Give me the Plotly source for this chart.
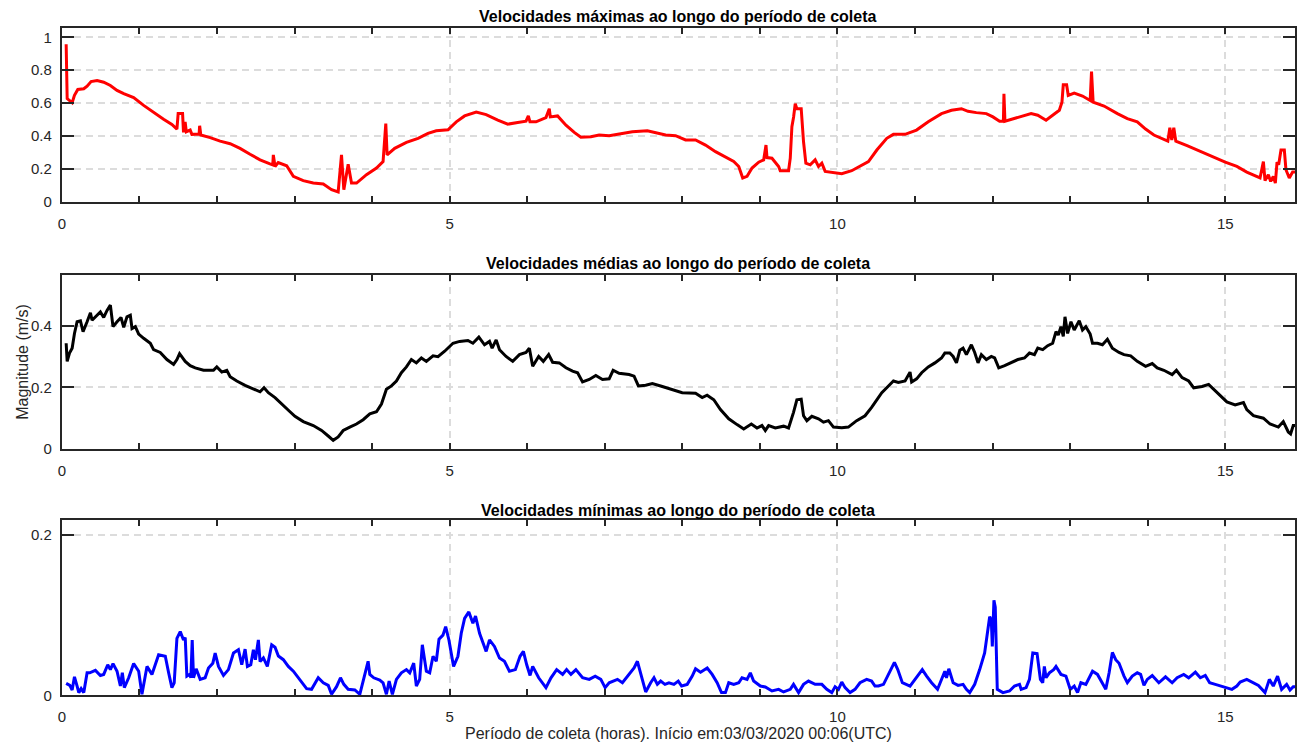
import plotly.graph_objects as go

# ---------------- data (hours, m/s) ----------------
t_max = [0.056, 0.069, 0.133, 0.163, 0.206, 0.283, 0.326, 0.377, 0.455, 0.540, 0.626, 0.712, 0.798, 0.926,
         1.055, 1.183, 1.312, 1.419, 1.484, 1.500, 1.557, 1.569, 1.590, 1.605, 1.655, 1.677, 1.770, 1.777,
         1.792, 1.913, 2.041, 2.170, 2.298, 2.427, 2.556, 2.684, 2.720, 2.727, 2.749, 2.790, 2.899, 2.985,
         3.113, 3.242, 3.371, 3.478, 3.563, 3.606, 3.636, 3.692, 3.735, 3.800, 3.928, 4.057, 4.142, 4.177,
         4.194, 4.292, 4.443, 4.593, 4.721, 4.828, 4.979, 5.086, 5.193, 5.343, 5.471, 5.621, 5.750, 5.878,
         5.985, 6.015, 6.036, 6.114, 6.242, 6.285, 6.298, 6.392, 6.500, 6.607, 6.692, 6.821, 6.928, 7.057,
         7.228, 7.356, 7.549, 7.656, 7.785, 7.913, 8.042, 8.171, 8.299, 8.428, 8.556, 8.663, 8.728, 8.779,
         8.835, 8.899, 8.985, 9.049, 9.079, 9.092, 9.156, 9.242, 9.263, 9.370, 9.392, 9.413, 9.435, 9.456,
         9.477, 9.533, 9.563, 9.593, 9.649, 9.713, 9.756, 9.799, 9.842, 9.927, 10.056, 10.184, 10.313,
         10.400, 10.508, 10.636, 10.722, 10.872, 11.020, 11.171, 11.342, 11.471, 11.599, 11.684, 11.791,
         11.920, 12.005, 12.091, 12.140, 12.147, 12.160, 12.241, 12.369, 12.497, 12.583, 12.690, 12.775,
         12.861, 12.895, 12.912, 12.955, 12.976, 13.053, 13.160, 13.259, 13.276, 13.297, 13.438, 13.610,
         13.738, 13.866, 13.973, 14.080, 14.209, 14.260, 14.286, 14.311, 14.337, 14.363, 14.508, 14.679,
         14.850, 15.000, 15.150, 15.278, 15.449, 15.492, 15.513, 15.556, 15.586, 15.620, 15.646, 15.668,
         15.689, 15.719, 15.762, 15.783, 15.826, 15.869, 15.900]
v_max = [0.958, 0.627, 0.602, 0.647, 0.683, 0.687, 0.703, 0.731, 0.737, 0.727, 0.707, 0.677, 0.657, 0.633,
         0.586, 0.542, 0.502, 0.470, 0.442, 0.536, 0.536, 0.422, 0.486, 0.426, 0.436, 0.410, 0.412, 0.462,
         0.406, 0.390, 0.369, 0.353, 0.325, 0.289, 0.255, 0.231, 0.225, 0.285, 0.215, 0.239, 0.219, 0.155,
         0.129, 0.114, 0.108, 0.074, 0.060, 0.285, 0.074, 0.229, 0.114, 0.114, 0.165, 0.205, 0.245, 0.476,
         0.285, 0.325, 0.361, 0.386, 0.416, 0.432, 0.438, 0.486, 0.522, 0.546, 0.530, 0.496, 0.472, 0.482,
         0.490, 0.522, 0.486, 0.486, 0.512, 0.566, 0.516, 0.522, 0.466, 0.422, 0.392, 0.396, 0.406, 0.402,
         0.416, 0.426, 0.432, 0.422, 0.406, 0.402, 0.376, 0.376, 0.345, 0.305, 0.271, 0.245, 0.215, 0.145,
         0.155, 0.205, 0.241, 0.255, 0.345, 0.269, 0.265, 0.215, 0.189, 0.189, 0.265, 0.456, 0.516, 0.596,
         0.566, 0.566, 0.365, 0.235, 0.225, 0.255, 0.215, 0.235, 0.185, 0.181, 0.171, 0.189, 0.225,
         0.245, 0.315, 0.386, 0.410, 0.410, 0.436, 0.486, 0.536, 0.556, 0.566, 0.550, 0.542,
         0.536, 0.516, 0.490, 0.490, 0.657, 0.490, 0.502, 0.520, 0.536, 0.526, 0.496, 0.526,
         0.556, 0.606, 0.711, 0.711, 0.647, 0.661, 0.643, 0.616, 0.791, 0.606, 0.582, 0.536,
         0.506, 0.486, 0.442, 0.406, 0.376, 0.369, 0.450, 0.376, 0.450, 0.369, 0.341, 0.305,
         0.269, 0.241, 0.215, 0.181, 0.145, 0.245, 0.129, 0.165, 0.124, 0.155, 0.114, 0.241,
         0.225, 0.315, 0.315, 0.195, 0.145, 0.181, 0.181]

t_mean = [0.056, 0.069, 0.099, 0.133, 0.163, 0.197, 0.240, 0.274, 0.326, 0.369, 0.390, 0.455, 0.497, 0.540,
          0.583, 0.626, 0.660, 0.712, 0.763, 0.798, 0.840, 0.883, 0.905, 0.948, 0.991, 1.055, 1.141, 1.183,
          1.269, 1.355, 1.441, 1.484, 1.518, 1.591, 1.655, 1.720, 1.827, 1.955, 1.998, 2.063, 2.127, 2.170,
          2.256, 2.363, 2.470, 2.556, 2.607, 2.663, 2.749, 2.856, 2.942, 3.006, 3.113, 3.242, 3.349, 3.435,
          3.499, 3.563, 3.628, 3.713, 3.799, 3.885, 3.971, 4.057, 4.121, 4.185, 4.250, 4.314, 4.378, 4.443,
          4.507, 4.571, 4.636, 4.700, 4.786, 4.850, 4.936, 5.043, 5.129, 5.236, 5.300, 5.377, 5.450, 5.514,
          5.548, 5.600, 5.643, 5.728, 5.814, 5.900, 5.985, 6.028, 6.071, 6.148, 6.208, 6.277, 6.328, 6.414,
          6.500, 6.585, 6.650, 6.714, 6.800, 6.885, 6.971, 7.057, 7.108, 7.185, 7.314, 7.378, 7.434, 7.528,
          7.614, 7.742, 7.870, 7.999, 8.171, 8.256, 8.320, 8.406, 8.492, 8.599, 8.706, 8.792, 8.890, 8.963,
          9.027, 9.070, 9.113, 9.199, 9.306, 9.370, 9.434, 9.477, 9.533, 9.563, 9.606, 9.670, 9.756, 9.820,
          9.884, 9.949, 10.056, 10.141, 10.248, 10.356, 10.441, 10.527, 10.572, 10.658, 10.722, 10.786,
          10.872, 10.936, 10.957, 11.021, 11.086, 11.171, 11.257, 11.342, 11.385, 11.449, 11.492, 11.535,
          11.578, 11.620, 11.663, 11.727, 11.770, 11.813, 11.856, 11.920, 11.984, 12.027, 12.080, 12.156,
          12.241, 12.327, 12.412, 12.476, 12.540, 12.583, 12.647, 12.711, 12.775, 12.818, 12.848, 12.882,
          12.912, 12.934, 12.968, 13.011, 13.053, 13.118, 13.160, 13.203, 13.259, 13.289, 13.353, 13.417,
          13.481, 13.545, 13.631, 13.695, 13.781, 13.866, 13.973, 14.059, 14.123, 14.209, 14.316, 14.371,
          14.444, 14.529, 14.594, 14.701, 14.786, 14.872, 14.957, 15.021, 15.128, 15.235, 15.278, 15.364,
          15.492, 15.578, 15.685, 15.749, 15.813, 15.843, 15.877, 15.900]
v_mean = [0.344, 0.285, 0.312, 0.328, 0.376, 0.414, 0.417, 0.382, 0.414, 0.443, 0.419, 0.435, 0.446, 0.428,
          0.451, 0.468, 0.398, 0.414, 0.428, 0.396, 0.430, 0.435, 0.392, 0.398, 0.374, 0.360, 0.344, 0.323,
          0.314, 0.291, 0.275, 0.291, 0.310, 0.285, 0.271, 0.264, 0.256, 0.256, 0.267, 0.250, 0.256, 0.235,
          0.221, 0.207, 0.194, 0.186, 0.199, 0.183, 0.167, 0.143, 0.121, 0.106, 0.089, 0.076, 0.060, 0.042,
          0.028, 0.039, 0.060, 0.071, 0.081, 0.095, 0.114, 0.121, 0.146, 0.194, 0.205, 0.221, 0.248, 0.267,
          0.291, 0.280, 0.296, 0.285, 0.303, 0.300, 0.318, 0.344, 0.350, 0.353, 0.344, 0.364, 0.339, 0.350,
          0.328, 0.355, 0.323, 0.301, 0.285, 0.307, 0.314, 0.328, 0.269, 0.301, 0.285, 0.307, 0.282, 0.280,
          0.264, 0.253, 0.248, 0.218, 0.226, 0.239, 0.226, 0.228, 0.256, 0.246, 0.242, 0.237, 0.205, 0.207,
          0.213, 0.203, 0.192, 0.183, 0.181, 0.167, 0.175, 0.160, 0.128, 0.098, 0.079, 0.065, 0.081, 0.068,
          0.076, 0.060, 0.076, 0.068, 0.074, 0.068, 0.119, 0.160, 0.162, 0.108, 0.092, 0.106, 0.098, 0.087,
          0.092, 0.071, 0.069, 0.071, 0.092, 0.108, 0.135, 0.167, 0.183, 0.205, 0.221, 0.216,
          0.221, 0.250, 0.218, 0.228, 0.248, 0.267, 0.280, 0.296, 0.312, 0.312, 0.301, 0.280,
          0.321, 0.328, 0.307, 0.339, 0.314, 0.280, 0.307, 0.291, 0.301, 0.296, 0.264, 0.271,
          0.282, 0.291, 0.296, 0.312, 0.307, 0.328, 0.323, 0.336, 0.344, 0.382, 0.371, 0.398,
          0.366, 0.430, 0.376, 0.414, 0.387, 0.417, 0.387, 0.398, 0.374, 0.344, 0.344, 0.339,
          0.357, 0.328, 0.314, 0.307, 0.303, 0.285, 0.269, 0.278, 0.264, 0.256, 0.242, 0.256,
          0.232, 0.221, 0.199, 0.203, 0.210, 0.189, 0.167, 0.153, 0.143, 0.151, 0.128, 0.108,
          0.100, 0.081, 0.071, 0.089, 0.055, 0.049, 0.076, 0.076]

t_min = [0.056, 0.103, 0.133, 0.163, 0.197, 0.219, 0.249, 0.283, 0.326, 0.360, 0.433, 0.497, 0.540, 0.592,
         0.626, 0.660, 0.712, 0.755, 0.780, 0.806, 0.862, 0.926, 0.991, 1.033, 1.098, 1.162, 1.248, 1.334,
         1.377, 1.419, 1.449, 1.484, 1.527, 1.569, 1.591, 1.612, 1.647, 1.664, 1.681, 1.698, 1.732, 1.784,
         1.848, 1.891, 1.947, 1.977, 2.020, 2.084, 2.148, 2.213, 2.277, 2.320, 2.363, 2.393, 2.436, 2.470,
         2.496, 2.534, 2.556, 2.599, 2.650, 2.706, 2.749, 2.792, 2.856, 2.920, 2.985, 3.070, 3.156, 3.220,
         3.306, 3.371, 3.435, 3.478, 3.542, 3.593, 3.636, 3.692, 3.778, 3.842, 3.906, 3.949, 3.971, 4.022,
         4.099, 4.142, 4.185, 4.220, 4.262, 4.314, 4.378, 4.443, 4.486, 4.537, 4.571, 4.614, 4.648, 4.700,
         4.743, 4.786, 4.828, 4.863, 4.914, 4.949, 4.991, 5.051, 5.107, 5.150, 5.193, 5.248, 5.300, 5.334,
         5.386, 5.471, 5.514, 5.578, 5.643, 5.707, 5.771, 5.848, 5.908, 5.951, 5.994, 6.037, 6.071, 6.148,
         6.242, 6.307, 6.380, 6.457, 6.508, 6.564, 6.628, 6.714, 6.800, 6.877, 6.949, 7.005, 7.057, 7.164,
         7.228, 7.314, 7.378, 7.421, 7.464, 7.528, 7.592, 7.635, 7.678, 7.721, 7.776, 7.828, 7.892, 7.948,
         7.991, 8.063, 8.128, 8.171, 8.235, 8.321, 8.385, 8.449, 8.505, 8.556, 8.599, 8.663, 8.728, 8.770,
         8.835, 8.877, 8.920, 9.006, 9.070, 9.156, 9.242, 9.306, 9.392, 9.434, 9.499, 9.563, 9.627, 9.713,
         9.799, 9.863, 9.927, 9.970, 10.013, 10.056, 10.099, 10.163, 10.227, 10.291, 10.377, 10.441,
         10.484, 10.529, 10.594, 10.658, 10.735, 10.778, 10.837, 10.936, 11.021, 11.094, 11.150, 11.214,
         11.291, 11.342, 11.385, 11.406, 11.436, 11.492, 11.556, 11.620, 11.663, 11.706, 11.770, 11.834,
         11.898, 11.963, 11.984, 11.997, 12.018, 12.035, 12.061, 12.134, 12.219, 12.283, 12.348, 12.369,
         12.433, 12.476, 12.519, 12.574, 12.617, 12.647, 12.668, 12.690, 12.733, 12.788, 12.818, 12.882,
         12.946, 13.002, 13.053, 13.096, 13.139, 13.203, 13.289, 13.353, 13.396, 13.460, 13.503, 13.545,
         13.588, 13.631, 13.695, 13.738, 13.802, 13.866, 13.909, 13.952, 13.995, 14.059, 14.144, 14.230,
         14.316, 14.380, 14.465, 14.529, 14.615, 14.679, 14.743, 14.799, 14.872, 14.936, 15.000, 15.086,
         15.150, 15.193, 15.278, 15.364, 15.428, 15.513, 15.569, 15.620, 15.675, 15.727, 15.792, 15.835,
         15.877, 15.900]
v_min = [0.0148, 0.0123, 0.0066, 0.0230, 0.0115, 0.0033, 0.0082, 0.0033, 0.0280, 0.0280, 0.0310, 0.0247,
         0.0260, 0.0380, 0.0320, 0.0395, 0.0300, 0.0115, 0.0280, 0.0095, 0.0218, 0.0395, 0.0300, 0.0012,
         0.0360, 0.0260, 0.0506, 0.0486, 0.0280, 0.0095, 0.0156, 0.0710, 0.0794, 0.0690, 0.0720, 0.0239,
         0.0260, 0.0218, 0.0690, 0.0218, 0.0330, 0.0198, 0.0218, 0.0340, 0.0400, 0.0527, 0.0360, 0.0247,
         0.0320, 0.0527, 0.0568, 0.0380, 0.0576, 0.0360, 0.0380, 0.0568, 0.0444, 0.0690, 0.0420, 0.0465,
         0.0360, 0.0630, 0.0600, 0.0490, 0.0444, 0.0360, 0.0300, 0.0198, 0.0082, 0.0074, 0.0218, 0.0156,
         0.0123, 0.0012, 0.0107, 0.0218, 0.0136, 0.0074, 0.0066, 0.0012, 0.0239, 0.0424, 0.0260, 0.0218,
         0.0190, 0.0156, 0.0012, 0.0177, 0.0012, 0.0198, 0.0280, 0.0320, 0.0280, 0.0400, 0.0115, 0.0198,
         0.0630, 0.0300, 0.0280, 0.0486, 0.0424, 0.0700, 0.0750, 0.0856, 0.0690, 0.0360, 0.0486, 0.0774,
         0.0959, 0.1040, 0.0897, 0.0988, 0.0774, 0.0547, 0.0690, 0.0609, 0.0465, 0.0424, 0.0300, 0.0320,
         0.0486, 0.0547, 0.0380, 0.0247, 0.0360, 0.0218, 0.0095, 0.0218, 0.0320, 0.0260, 0.0320, 0.0260,
         0.0320, 0.0218, 0.0198, 0.0239, 0.0198, 0.0095, 0.0156, 0.0198, 0.0156, 0.0260, 0.0340, 0.0424,
         0.0280, 0.0041, 0.0156, 0.0218, 0.0136, 0.0177, 0.0136, 0.0156, 0.0136, 0.0177, 0.0115, 0.0136,
         0.0239, 0.0330, 0.0288, 0.0340, 0.0260, 0.0156, 0.0033, 0.0033, 0.0156, 0.0136, 0.0156, 0.0218,
         0.0198, 0.0280, 0.0177, 0.0115, 0.0103, 0.0053, 0.0074, 0.0041, 0.0074, 0.0136, 0.0033, 0.0136,
         0.0177, 0.0136, 0.0136, 0.0074, 0.0033, 0.0107, 0.0074, 0.0165, 0.0095, 0.0033, 0.0074, 0.0156,
         0.0198, 0.0177, 0.0115, 0.0115, 0.0136, 0.0260, 0.0410, 0.0320, 0.0156, 0.0115, 0.0218, 0.0320,
         0.0239, 0.0156, 0.0074, 0.0198, 0.0300, 0.0218, 0.0330, 0.0156, 0.0123, 0.0136, 0.0074, 0.0033,
         0.0136, 0.0320, 0.0527, 0.0980, 0.0938, 0.0609, 0.1185, 0.1100, 0.0074, 0.0033, 0.0053, 0.0115,
         0.0136, 0.0074, 0.0095, 0.0198, 0.0527, 0.0519, 0.0198, 0.0156, 0.0360, 0.0218, 0.0280, 0.0320,
         0.0360, 0.0260, 0.0239, 0.0074, 0.0115, 0.0033, 0.0156, 0.0136, 0.0300, 0.0260, 0.0177, 0.0074,
         0.0280, 0.0535, 0.0444, 0.0400, 0.0239, 0.0156, 0.0239, 0.0280, 0.0260, 0.0123, 0.0198, 0.0247,
         0.0156, 0.0230, 0.0156, 0.0218, 0.0260, 0.0218, 0.0288, 0.0218, 0.0247, 0.0156, 0.0136, 0.0115,
         0.0095, 0.0074, 0.0115, 0.0165, 0.0198, 0.0156, 0.0123, 0.0033, 0.0198, 0.0115, 0.0239, 0.0074,
         0.0136, 0.0066, 0.0107, 0.0107]

titles = ["Velocidades máximas ao longo do período de coleta",
          "Velocidades médias ao longo do período de coleta",
          "Velocidades mínimas ao longo do período de coleta"]
y_ranges = [[0, 1.058], [0, 0.567], [0, 0.219]]
x_range = [0, 15.9]
x_label = "Período de coleta (horas). Início em:03/03/2020 00:06(UTC)"
y_label = "Magnitude (m/s)"

# ---------------- layout ----------------
W, H = 1304, 755
FONT = "Liberation Sans, Arial, sans-serif"
AX = "#262626"
GRID = "#dcdcdc"

x_dom = [58 / W, 1295 / W]
panels_px = [(28, 204), (277.7, 453.7), (525.3, 702.7)]
y_doms = [[1 - b / H, 1 - t / H] for (t, b) in panels_px]

fig = go.Figure()
series = [(t_max, v_max, "#ff0000"), (t_mean, v_mean, "#000000"), (t_min, v_min, "#0000ff")]
for i, (tx, vy, col) in enumerate(series):
    sfx = "" if i == 0 else str(i + 1)
    fig.add_trace(go.Scatter(x=tx, y=vy, mode="lines", line=dict(color=col, width=3),
                             xaxis="x" + sfx, yaxis="y" + sfx, showlegend=False))

layout = dict(width=W, height=H, margin=dict(l=0, r=0, t=0, b=0),
              paper_bgcolor="white", plot_bgcolor="white",
              font=dict(family=FONT, size=15, color=AX), showlegend=False)

for i in range(3):
    sfx = "" if i == 0 else str(i + 1)
    layout["xaxis" + sfx] = dict(
        domain=x_dom, range=x_range, anchor="y" + sfx, dtick=5, tick0=0,
        showline=True, linecolor=AX, linewidth=2, mirror="allticks",
        ticks="inside", ticklen=6, tickwidth=2, tickcolor=AX,
        showgrid=True, gridcolor=GRID, gridwidth=2, griddash="7px,5px",
        zeroline=False, tickfont=dict(family=FONT, size=15, color=AX),
        ticklabelstandoff=7,
        minor=dict(dtick=1, tick0=0, ticks="inside", ticklen=6, tickwidth=2,
                   tickcolor=AX, showgrid=False),
    )
    layout["yaxis" + sfx] = dict(
        domain=y_doms[i], range=y_ranges[i], anchor="x" + sfx, dtick=0.2, tick0=0,
        showline=True, linecolor=AX, linewidth=2, mirror="allticks",
        ticks="inside", ticklen=12, tickwidth=2, tickcolor=AX,
        showgrid=True, gridcolor=GRID, gridwidth=2, griddash="7px,5px",
        zeroline=False, tickfont=dict(family=FONT, size=15, color=AX),
        ticklabelstandoff=5,
    )

ann = []
title_y = [17, 266, 516]
for i in range(3):
    ann.append(dict(text="<b>" + titles[i] + "</b>", x=676.5 / W, y=1 - title_y[i] / H,
                    xref="paper", yref="paper", xanchor="center", yanchor="middle",
                    showarrow=False, font=dict(family=FONT, size=16, color="#000000")))
ann.append(dict(text=x_label, x=676.5 / W, y=1 - 741 / H, xref="paper", yref="paper",
                xanchor="center", yanchor="middle", showarrow=False,
                font=dict(family=FONT, size=16, color=AX)))
ann.append(dict(text=y_label, x=19 / W, y=1 - 365.7 / H, xref="paper", yref="paper",
                xanchor="center", yanchor="middle", textangle=-90, showarrow=False,
                font=dict(family=FONT, size=16, color=AX)))
layout["annotations"] = ann

fig.update_layout(**layout)
fig.write_html("out.html")
